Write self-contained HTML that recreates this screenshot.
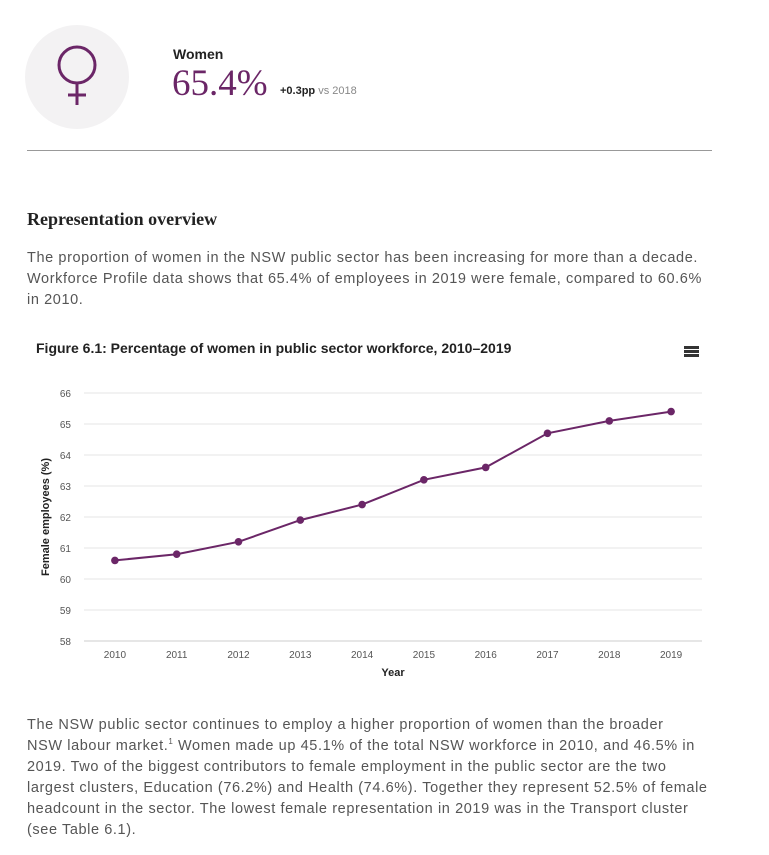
<!DOCTYPE html>
<html><head><meta charset="utf-8"><style>
body{margin:0;width:769px;height:855px;background:#fff;font-family:"Liberation Sans",sans-serif;position:relative;overflow:hidden}
.abs{position:absolute}
p.body{position:absolute;left:27px;width:740px;margin:0;font-size:14.5px;line-height:21px;color:#555;letter-spacing:0.6px;white-space:nowrap}
sup{line-height:0;font-size:8px}
</style></head><body>
<div class="abs" style="left:25px;top:25px;width:104px;height:104px;border-radius:50%;background:#f3f2f3"></div>
<svg class="abs" style="left:25px;top:25px" width="104" height="104">
<circle cx="52" cy="40" r="18" fill="none" stroke="#6b2667" stroke-width="3"/>
<line x1="52" y1="58" x2="52" y2="80" stroke="#6b2667" stroke-width="3"/>
<line x1="43" y1="70" x2="61" y2="70" stroke="#6b2667" stroke-width="3"/>
</svg>
<div class="abs" style="left:173px;top:46px;font-size:14px;font-weight:bold;color:#222">Women</div>
<div class="abs" style="left:172px;top:62px;font-size:37px;color:#6b2667;font-family:'Liberation Serif',serif">65.4%</div>
<div class="abs" style="left:280px;top:85px;font-size:11px;color:#888"><b style="color:#222">+0.3pp</b> vs 2018</div>
<div class="abs" style="left:27px;top:150px;width:685px;height:1px;background:#999"></div>
<div class="abs" style="left:27px;top:209px;font-size:18px;font-weight:bold;color:#222;font-family:'Liberation Serif',serif">Representation overview</div>
<p class="body" style="top:248px">The proportion of women in the NSW public sector has been increasing for more than a decade.<br>Workforce Profile data shows that 65.4% of employees in 2019 were female, compared to 60.6%<br>in 2010.</p>
<div class="abs" style="left:36px;top:340px;font-size:14px;font-weight:bold;color:#222">Figure 6.1: Percentage of women in public sector workforce, 2010–2019</div>
<div class="abs" style="left:684px;top:346px;width:15px;height:11px;border-top:3px solid #333;border-bottom:3px solid #333;box-sizing:border-box"><div style="margin-top:1px;height:3px;background:#333"></div></div>
<svg class="abs" style="left:0;top:0" width="769" height="700" id="chart"></svg>
<p class="body" style="top:715px">The NSW public sector continues to employ a higher proportion of women than the broader<br>NSW labour market.<sup>1</sup> Women made up 45.1% of the total NSW workforce in 2010, and 46.5% in<br>2019. Two of the biggest contributors to female employment in the public sector are the two<br>largest clusters, Education (76.2%) and Health (74.6%). Together they represent 52.5% of female<br>headcount in the sector. The lowest female representation in 2019 was in the Transport cluster<br>(see Table 6.1).</p>
<script>
const years=[2010,2011,2012,2013,2014,2015,2016,2017,2018,2019];
const values=[60.6,60.8,61.2,61.9,62.4,63.2,63.6,64.7,65.1,65.4];
const yTicks=[58,59,60,61,62,63,64,65,66];
const NS="http://www.w3.org/2000/svg";
const svg=document.getElementById('chart');
const x0=84,x1=702,yTop=393,yBot=641,yMin=58,yMax=66;
const step=(x1-x0)/years.length;
const xs=i=>x0+step*(i+0.5);
const ys=v=>yBot-(v-yMin)/(yMax-yMin)*(yBot-yTop);
function mk(t,a){const e=document.createElementNS(NS,t);for(const k in a)e.setAttribute(k,a[k]);svg.appendChild(e);return e;}
yTicks.forEach(v=>{
 const g=mk('line',{x1:x0,x2:x1,y1:ys(v),y2:ys(v),stroke:v===yMin?'#ccc':'#e6e6e6','stroke-width':1});
 
 
 const t=mk('text',{x:71,y:ys(v)+4,'text-anchor':'end','font-size':10,fill:'#555','font-family':'Liberation Sans,sans-serif'});
 t.textContent=v;
 
 
});
years.forEach((yr,i)=>{
 const t=mk('text',{x:xs(i),y:658,'text-anchor':'middle','font-size':10,fill:'#555','font-family':'Liberation Sans,sans-serif'});
 t.textContent=yr;
 
 
});
const xt=mk('text',{x:393,y:676,'text-anchor':'middle','font-size':11,'font-weight':'bold',fill:'#222','font-family':'Liberation Sans,sans-serif'});
xt.textContent='Year';


const yt=mk('text',{x:0,y:0,transform:'translate(49,517) rotate(-90)','text-anchor':'middle','font-size':11,'font-weight':'bold',fill:'#222','font-family':'Liberation Sans,sans-serif'});
yt.textContent='Female employees (%)';


const pl=mk('polyline',{points:values.map((v,i)=>xs(i)+','+ys(v)).join(' '),fill:'none',stroke:'#6b2667','stroke-width':2});


values.forEach((v,i)=>{
 const c=mk('circle',{cx:xs(i),cy:ys(v),r:3.8,fill:'#6b2667'});
 
 
});
</script>
</body></html>
